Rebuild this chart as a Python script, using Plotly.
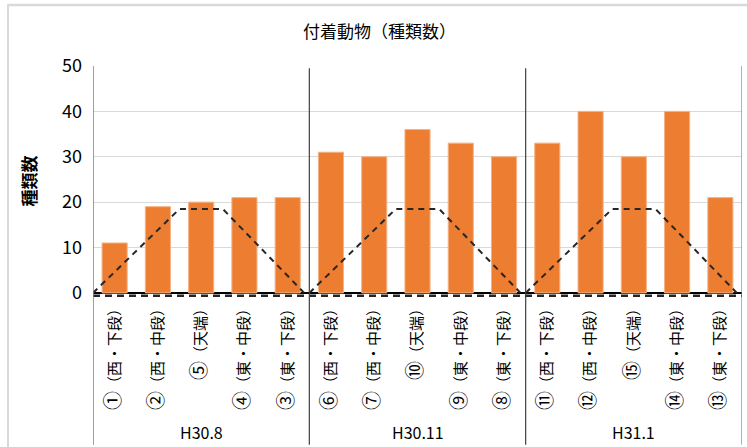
import plotly.graph_objects as go

# Survey periods and sampling points
groups = ["H30.8", "H30.11", "H31.1"]
point_no = ["①", "②", "⑤", "④", "③",
            "⑥", "⑦", "⑩", "⑨", "⑧",
            "⑪", "⑫", "⑮", "⑭", "⑬"]
point_pos = ["（西・下段）", "（西・中段）", "（天端）", "（東・中段）", "（東・下段）",
             "（西・下段）", "（西・中段）", "（天端）", "（東・中段）", "（東・下段）",
             "（西・下段）", "（西・中段）", "（天端）", "（東・中段）", "（東・下段）"]
# Number of species of attached animals
species = [11, 19, 20, 21, 21,
           31, 30, 36, 33, 30,
           33, 40, 30, 40, 21]

# Cross-section profile of the structure within each period block
profile_pos = [0.0, 2.0, 3.0, 4.88]
profile_height = [0, 18.5, 18.5, 0]
base_level = -0.6

n_per_group = len(point_no) // len(groups)
xs = list(range(len(point_no)))
tick_text = [f'<span style="font-size:19px">{n}</span>{p}' for n, p in zip(point_no, point_pos)]

FONT = "Noto Sans CJK JP"
BAR_COLOR = "#ED7D31"
LINE_COLOR = "#262626"

fig = go.Figure()

fig.add_trace(go.Bar(
    x=xs, y=species, width=0.58,
    marker=dict(color=BAR_COLOR, line=dict(color="#F4B183", width=1)),
    showlegend=False,
))

# Profile outline for each block
for g in range(len(groups)):
    start = g * n_per_group - 0.5
    fig.add_trace(go.Scatter(
        x=[start + p for p in profile_pos], y=profile_height,
        mode="lines", line=dict(color=LINE_COLOR, width=2, dash="6px,5px"),
        showlegend=False, hoverinfo="skip",
    ))

# Base line along the bottom
fig.add_trace(go.Scatter(
    x=[-0.5, len(point_no) - 0.5], y=[base_level, base_level],
    mode="lines", line=dict(color=LINE_COLOR, width=2.5, dash="7px,5px"),
    showlegend=False, hoverinfo="skip",
))

shapes = []
# Block dividers, running from the top of the plot down through the labels
for g in range(len(groups) + 1):
    xv = g * n_per_group - 0.5
    edge = g in (0, len(groups))
    shapes.append(dict(type="line", xref="x", yref="paper", x0=xv, x1=xv,
                       y0=-0.64, y1=1.0 if edge else 0.99,
                       line=dict(color="#7F7F7F" if edge else "#404040",
                                 width=1.5 if g == 0 else 1.2)))
# Outer chart frame
shapes.append(dict(type="line", xref="paper", yref="paper", x0=-0.132, x1=1.02,
                   y0=1.264, y1=1.264, line=dict(color="#D9D9D9", width=2.5)))
shapes.append(dict(type="line", xref="paper", yref="paper", x0=-0.131, x1=-0.131,
                   y0=-0.66, y1=1.264, line=dict(color="#D9D9D9", width=2)))

annotations = []
for g, name in enumerate(groups):
    annotations.append(dict(
        x=g * n_per_group + (n_per_group - 1) / 2, y=-0.585, xref="x", yref="paper",
        text=name, showarrow=False, yanchor="middle",
        font=dict(family=FONT, size=16, color="#000000"),
    ))
annotations.append(dict(
    x=-0.1, y=0.5, xref="paper", yref="paper", text="<b>種類数</b>",
    textangle=-90, showarrow=False, xanchor="center", yanchor="middle",
    font=dict(family=FONT, size=17, color="#000000"),
))
annotations.append(dict(
    x=0.442, y=1.155, xref="paper", yref="paper", text="付着動物（種類数）",
    showarrow=False, xanchor="center", yanchor="middle",
    font=dict(family=FONT, size=17, color="#000000"),
))

fig.update_layout(
    width=747, height=447,
    margin=dict(l=93, r=5, t=66, b=150),
    paper_bgcolor="white", plot_bgcolor="white",
    font=dict(family=FONT, color="#000000"),
    shapes=shapes, annotations=annotations,
    xaxis=dict(
        range=[-0.5, len(point_no) - 0.5],
        tickmode="array", tickvals=xs, ticktext=tick_text,
        tickangle=-90, tickfont=dict(size=15, family=FONT, color="#000000"),
        showgrid=False, zeroline=False, showline=False, ticks="",
        fixedrange=True,
    ),
    yaxis=dict(
        range=[-0.9, 50],
        tickmode="array", tickvals=[0, 10, 20, 30, 40, 50],
        tickfont=dict(size=18, family=FONT, color="#000000"),
        showgrid=True, gridcolor="#D9D9D9", gridwidth=1,
        zeroline=True, zerolinecolor="#000000", zerolinewidth=2,
        showline=False, ticks="", ticklabelstandoff=10,
        fixedrange=True,
    ),
)

fig.write_html("out.html")
